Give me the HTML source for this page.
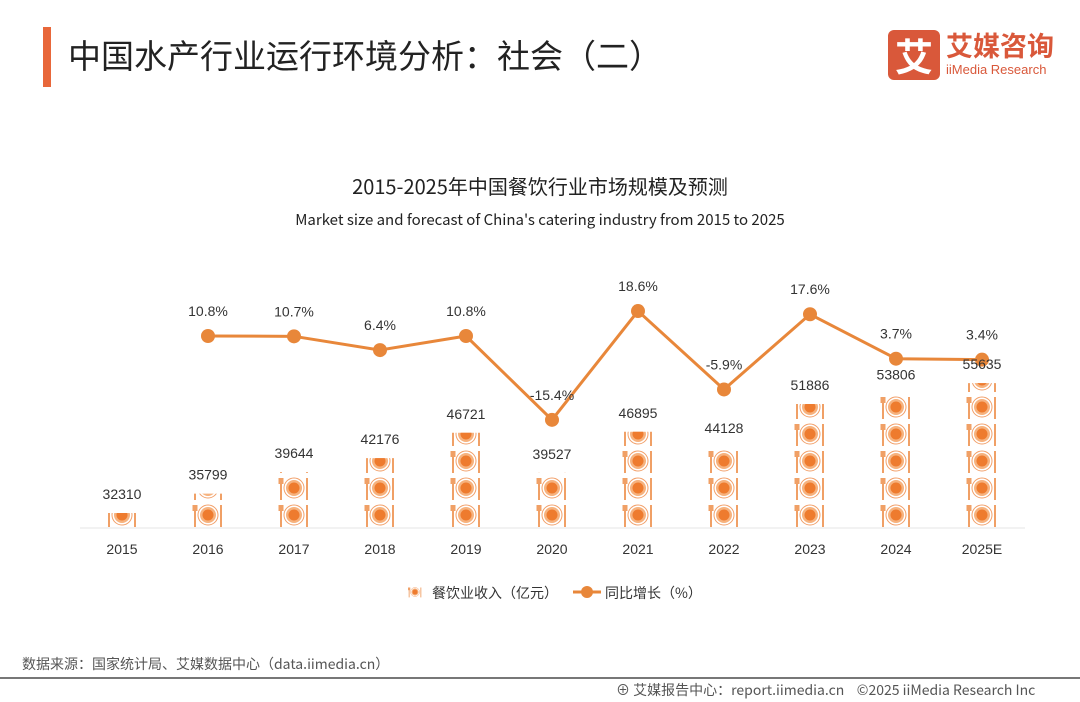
<!DOCTYPE html>
<html><head><meta charset="utf-8">
<style>
body{margin:0;width:1080px;height:702px;background:#fff;overflow:hidden;font-family:"Liberation Sans","Noto Sans CJK SC",sans-serif;position:relative}
.abs{position:absolute}
</style></head>
<body>
<div class="abs" style="left:43px;top:27px;width:8px;height:60px;background:#e8673a"></div>
<div class="abs" style="left:68px;top:30px;font-size:33px;color:#222;font-family:'Noto Sans CJK SC',sans-serif">中国水产行业运行环境分析：社会（二）</div>
<div class="abs" style="left:888px;top:30px;width:52px;height:50px;background:#d9583a;border-radius:6px;color:#fff;font-size:38px;text-align:center;line-height:50px;font-family:'Noto Sans CJK SC',sans-serif;font-weight:bold">艾</div>
<div class="abs" style="left:946px;top:28px;font-size:27px;color:#d9583a;font-weight:bold;font-family:'Noto Sans CJK SC',sans-serif;line-height:34px">艾媒咨询</div>
<div class="abs" style="left:946px;top:62px;font-size:13px;color:#d9583a">iiMedia Research</div>

<svg class="abs" style="left:0;top:0" width="1080" height="702">
<defs>
<g id="icon">
<circle cx="0" cy="0" r="10" fill="#fff" stroke="#f2a06a" stroke-width="1"/>
<circle cx="0" cy="0" r="8" fill="#f6b27e"/>
<circle cx="0" cy="0" r="5.5" fill="#ee7b2e"/>
<rect x="-14" y="-10" width="2" height="22" fill="#f0a066"/>
<rect x="-15.5" y="-10" width="5" height="6" fill="#f0a066"/>
<rect x="12" y="-10" width="2" height="22" fill="#f0a066"/>
</g>
</defs>
<text x="540" y="194" text-anchor="middle" font-size="20" fill="#222" font-family="'Noto Sans CJK SC',sans-serif">2015-2025年中国餐饮行业市场规模及预测</text>
<text x="540" y="225" text-anchor="middle" font-size="15" fill="#222" font-family="'Noto Sans CJK SC',sans-serif">Market size and forecast of China's catering industry from 2015 to 2025</text>
<line x1="80" y1="528" x2="1025" y2="528" stroke="#e6e6e6" stroke-width="1"/>
<g id="bars"></g><g id="line"></g><g id="labels"></g>
<g>
<use href="#icon" transform="translate(415,592) scale(0.45)"/>
<text x="432" y="598" font-size="14" fill="#333" font-family="'Noto Sans CJK SC',sans-serif">餐饮业收入（亿元）</text>
<line x1="573" y1="592" x2="601" y2="592" stroke="#e8873a" stroke-width="3"/>
<circle cx="587" cy="592" r="6" fill="#e8873a"/>
<text x="605" y="598" font-size="14" fill="#333" font-family="'Noto Sans CJK SC',sans-serif">同比增长（%）</text>
</g>
</svg>
<div class="abs" style="left:22px;top:654px;font-size:14px;color:#555;font-family:'Noto Sans CJK SC',sans-serif">数据来源：国家统计局、艾媒数据中心（data.iimedia.cn）</div>
<div class="abs" style="left:0;top:677px;width:1080px;height:2px;background:#777"></div>
<div class="abs" style="left:616px;top:680px;font-size:14px;color:#555;font-family:'Noto Sans CJK SC',sans-serif">⊕ 艾媒报告中心：report.iimedia.cn&nbsp;&nbsp;&nbsp;&nbsp;©2025 iiMedia Research Inc</div>
<script>
const categories=["2015","2016","2017","2018","2019","2020","2021","2022","2023","2024","2025E"];
const revenue=[32310,35799,39644,42176,46721,39527,46895,44128,51886,53806,55635];
const growth=[null,10.8,10.7,6.4,10.8,-15.4,18.6,-5.9,17.6,3.7,3.4];
const NS="http://www.w3.org/2000/svg";
const xOf=i=>122+i*86;
const base=527,vMin=29800,pxPerUnit=0.00557;
const yBar=v=>base-(v-vMin)*pxPerUnit;
const yLine=g=>336-(g-10.8)*3.2;
function mk(t,a,p){const e=document.createElementNS(NS,t);for(const k in a)e.setAttribute(k,a[k]);p.appendChild(e);return e;}
const bars=document.getElementById('bars'),line=document.getElementById('line'),labels=document.getElementById('labels');
const defs=document.querySelector('defs');
revenue.forEach((v,i)=>{
 const x=xOf(i),top=yBar(v);
 const cp=mk('clipPath',{id:'c'+i},defs);
 mk('rect',{x:x-16,y:top,width:32,height:base-top},cp);
 const g=mk('g',{'clip-path':'url(#c'+i+')'},bars);
 
 
 for(let cy=base-12;cy>top-14;cy-=27){mk('use',{href:'#icon',transform:`translate(${x},${cy})`},g);}
 const t=mk('text',{x:x,y:top-14,'text-anchor':'middle','font-size':14,fill:'#333'},labels);
 
 
 t.textContent=v;
 const c=mk('text',{x:x,y:554,'text-anchor':'middle','font-size':14,fill:'#333'},labels);
 
 
 c.textContent=categories[i];
});
let pts=[];
growth.forEach((g,i)=>{if(g!==null)pts.push([xOf(i),yLine(g),g,i]);});
const pl=mk('polyline',{points:pts.map(p=>p[0]+','+p[1]).join(' '),fill:'none',stroke:'#e8873a','stroke-width':3},line);


pts.forEach(p=>{
 const c=mk('circle',{cx:p[0],cy:p[1],r:7,fill:'#e8873a'},line);
 
 
 const off=p[2]<-10?-20:-20;
 const t=mk('text',{x:p[0],y:p[1]+off,'text-anchor':'middle','font-size':14,fill:'#333'},labels);
 
 
 t.textContent=p[2]+'%';
});
</script>
</body></html>
